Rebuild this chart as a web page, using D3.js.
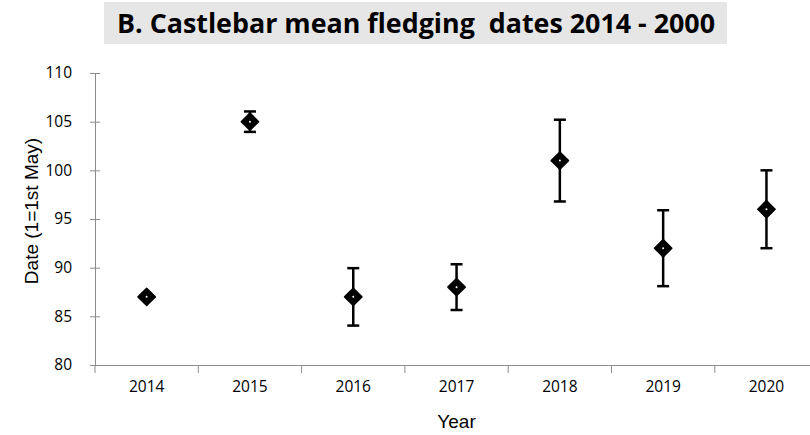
<!DOCTYPE html>
<html><head><meta charset="utf-8">
<script src="https://cdn.jsdelivr.net/npm/d3@7"></script>
<style>body{margin:0;background:#fff}svg{display:block}</style>
</head><body>
<script>
const years = ["2014","2015","2016","2017","2018","2019","2020"];
const means = [87, 105, 87, 88, 101, 92, 96];
const errs = [0, 1.05, 2.95, 2.35, 4.2, 3.9, 4.0];
const yTicks = [80, 85, 90, 95, 100, 105, 110];

const W = 810, H = 435;
const svg = d3.select("body").append("svg").attr("width", W).attr("height", H);
const left = 95, plotTop = 73, plotBottom = 365, catW = 103.3;

const x = d3.scaleBand().domain(years).range([left, left + catW * years.length]).padding(0);
const y = d3.scaleLinear().domain([80, 110]).range([plotBottom, plotTop]);

// title
svg.append("rect").attr("x", 104).attr("y", 2).attr("width", 623).attr("height", 42).attr("fill", "#e6e6e6");
svg.append("text").attr("x", 416).attr("y", 33).attr("text-anchor", "middle")
  .attr("font-family", "Open Sans, Lato, sans-serif").attr("font-weight", "bold").attr("font-size", 26)
  .attr("textLength", 598).attr("lengthAdjust", "spacingAndGlyphs")
  .attr("fill", "#000").text("B. Castlebar mean fledging  dates 2014 - 2000").style("white-space", "pre");

const axisColor = "#8c8c8c";
// y axis
const ya = svg.append("g").attr("transform", `translate(${left},0)`)
  .call(d3.axisLeft(y).tickValues(yTicks).tickSize(5).tickSizeOuter(0).tickPadding(18));
ya.select(".domain").attr("stroke", axisColor);
ya.selectAll(".tick line").attr("stroke", axisColor).attr("x1", -5).attr("x2", 5);
ya.selectAll(".tick text").attr("font-family", "Open Sans, sans-serif").attr("font-size", 15.5).attr("fill", "#000");

// x axis
const xa = svg.append("g").attr("transform", `translate(0,${plotBottom})`)
  .call(d3.axisBottom(x).tickSize(0).tickSizeOuter(0).tickPadding(16));
xa.select(".domain").attr("stroke", axisColor);
xa.selectAll(".tick text").attr("font-family", "Open Sans, sans-serif").attr("font-size", 15.5).attr("fill", "#000");
// category boundary ticks
svg.append("g").selectAll("line").data(years).join("line")
  .attr("x1", d => x(d)).attr("x2", d => x(d))
  .attr("y1", plotBottom).attr("y2", plotBottom + 8).attr("stroke", axisColor);

// axis titles
svg.append("text").attr("transform", `translate(38,${211}) rotate(-90)`)
  .attr("text-anchor", "middle").attr("font-family", "Liberation Sans, Arial, sans-serif").attr("font-size", 19)
  .text("Date (1=1st May)");
svg.append("text").attr("x", x("2017") + x.bandwidth() / 2).attr("y", 428).attr("text-anchor", "middle")
  .attr("font-family", "Liberation Sans, Arial, sans-serif").attr("font-size", 19).text("Year");

// error bars
const data = years.map((yr, i) => ({ yr, m: means[i], e: errs[i] }));
const cx = d => x(d.yr) + x.bandwidth() / 2;
const g = svg.append("g");
const eb = data.filter(d => d.e > 0);
g.selectAll(".v").data(eb).join("line")
  .attr("x1", cx).attr("x2", cx).attr("y1", d => y(d.m + d.e)).attr("y2", d => y(d.m - d.e))
  .attr("stroke", "#000").attr("stroke-width", 2.5);
g.selectAll(".ct").data(eb).join("line")
  .attr("x1", d => cx(d) - 6).attr("x2", d => cx(d) + 6).attr("y1", d => y(d.m + d.e)).attr("y2", d => y(d.m + d.e))
  .attr("stroke", "#000").attr("stroke-width", 2.5);
g.selectAll(".cb").data(eb).join("line")
  .attr("x1", d => cx(d) - 6).attr("x2", d => cx(d) + 6).attr("y1", d => y(d.m - d.e)).attr("y2", d => y(d.m - d.e))
  .attr("stroke", "#000").attr("stroke-width", 2.5);

// markers
const sym = d3.symbol().type(d3.symbolSquare).size(150);
g.selectAll(".mk").data(data).join("path")
  .attr("d", sym).attr("transform", d => `translate(${cx(d)},${y(d.m)}) rotate(45)`)
  .attr("fill", "#000").attr("stroke", "#000").attr("stroke-width", 1.5).attr("stroke-linejoin", "round");
g.selectAll(".dot").data(data).join("circle")
  .attr("cx", cx).attr("cy", d => y(d.m)).attr("r", 1).attr("fill", "#fff");
</script>
</body></html>
